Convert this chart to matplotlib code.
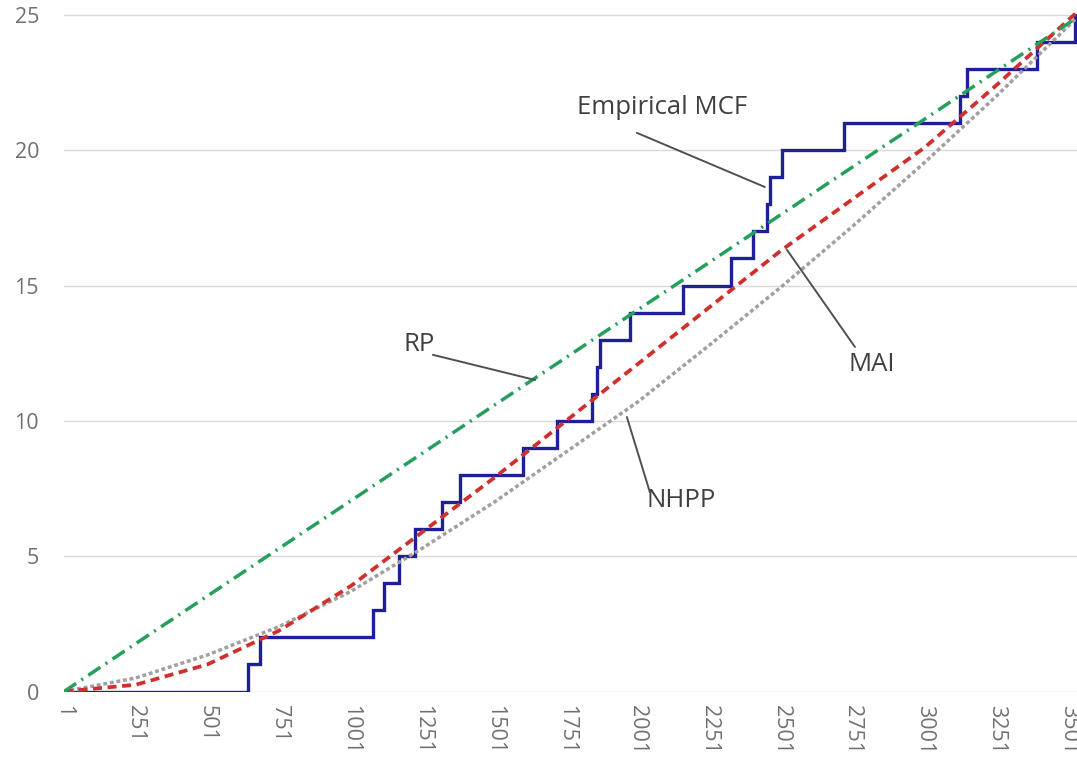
import matplotlib
matplotlib.use("Agg")
import matplotlib.pyplot as plt
import numpy as np

plt.rcParams['font.family'] = ['Open Sans', 'DejaVu Sans']
plt.rcParams['lines.scale_dashes'] = False

# ---------------- data ----------------
# Empirical MCF: step times and cumulative value after each step
mcf_t = [1, 642, 684, 1078, 1116, 1170, 1224, 1318, 1381, 1601, 1719, 1841, 1859,
         1869, 1974, 2158, 2326, 2403, 2451, 2462, 2504, 2720, 3124, 3147, 3392,
         3525, 3532]
mcf_v = [0, 1, 2, 3, 4, 5, 6, 7, 8, 9, 10, 11, 12,
         13, 14, 15, 16, 17, 18, 19, 20, 21, 22, 23, 24,
         25, 25]

# Model curves read at the category ticks
model_t = [1, 251, 501, 751, 1001, 1251, 1501, 1751, 2001, 2251, 2501, 2751,
           3001, 3251, 3532]
rp_v = [0, 1.77, 3.53, 5.29, 7.05, 8.81, 10.58, 12.34, 14.10, 15.86, 17.63,
        19.39, 21.15, 22.92, 24.9]
mai_v = [0, 0.25, 1.0, 2.25, 3.9, 5.9, 7.9, 10.0, 12.1, 14.2, 16.3, 18.2,
         20.1, 22.4, 25.1]
nhpp_v = [0, 0.5, 1.35, 2.4, 3.7, 5.3, 7.0, 8.85, 10.7, 12.8, 14.95, 17.2,
          19.55, 22.0, 24.9]

xtick_vals = [1, 251, 501, 751, 1001, 1251, 1501, 1751, 2001, 2251, 2501,
              2751, 3001, 3251, 3501]
ytick_vals = [0, 5, 10, 15, 20, 25]

# ---------------- figure ----------------
W, H = 1077, 764
fig = plt.figure(figsize=(W / 100, H / 100), dpi=100)
ax = fig.add_axes([64 / W, (H - 691.5) / H, 1 - 64 / W, 691.5 / H])

ax.set_xlim(1, 3532)
ax.set_ylim(0, 25.55)

for y in ytick_vals:
    ax.axhline(y, color='#d9d9d9', lw=1.0, zorder=0)

ax.step(mcf_t, mcf_v, where='post', color='#1f1f99', lw=2.4, zorder=2,
        solid_joinstyle='miter')
ax.plot(model_t, nhpp_v, color='#a0a0a0', lw=2.5, dashes=(2.8, 2.0), zorder=3)
ax.plot(model_t, mai_v, color='#d0302c', lw=2.7, dashes=(6.5, 4.0), zorder=4)
ax.plot(model_t, rp_v, color='#24a05c', lw=2.5, dashes=(10.5, 4.5, 1.5, 4.5), zorder=5)

for s in ax.spines.values():
    s.set_visible(False)

ax.set_xticks(xtick_vals)
ax.set_xticklabels([str(v) for v in xtick_vals], rotation=-90)
ax.set_yticks(ytick_vals)
ax.tick_params(axis='both', length=0, labelsize=15.5, colors='#707070')
ax.tick_params(axis='x', pad=10)
ax.tick_params(axis='y', pad=18)
for lab in ax.get_xticklabels():
    lab.set_verticalalignment('top')

# ---------------- annotations ----------------
txt_kw = dict(fontsize=18.5, color='#404040', ha='center', va='center', zorder=6)
line_kw = dict(arrowstyle='-', color='#505050', lw=1.4, shrinkA=0, shrinkB=0)

labels = [
    ('Empirical MCF', (2085, 21.56), (1998, 20.64), (2444, 18.64)),
    ('RP', (1238, 12.81), (1287, 12.44), (1643, 11.51)),
    ('NHPP', (2152, 7.04), (2043, 7.37), (1963, 10.14)),
    ('MAI', (2817, 12.1), (2758, 12.73), (2521, 16.32)),
]
for text, pos, start, tip in labels:
    ax.text(pos[0], pos[1], text, **txt_kw)
    ax.annotate('', xy=tip, xytext=start, arrowprops=line_kw, zorder=6)

fig.savefig('out.png', dpi=100)
